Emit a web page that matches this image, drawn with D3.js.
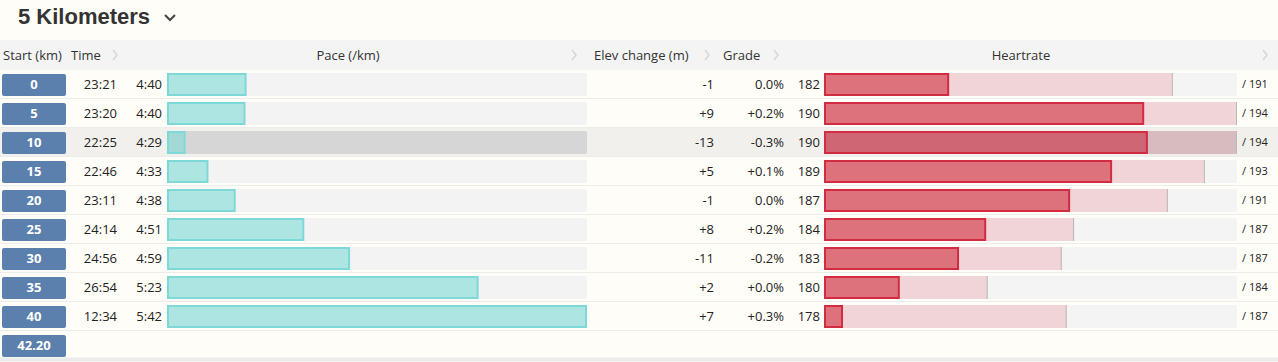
<!DOCTYPE html>
<html>
<head>
<meta charset="utf-8">
<script src="https://cdn.jsdelivr.net/npm/d3@7"></script>
<style>
  body { margin: 0; background: #fffdf8; }
  svg { display: block; font-family: "Open Sans", sans-serif; }
</style>
</head>
<body>
<div id="chart"></div>
<script>
// split data
const starts = ["0", "5", "10", "15", "20", "25", "30", "35", "40", "42.20"];
const times = ["23:21", "23:20", "22:25", "22:46", "23:11", "24:14", "24:56", "26:54", "12:34"];
const paceLabels = ["4:40", "4:40", "4:29", "4:33", "4:38", "4:51", "4:59", "5:23", "5:42"];
const paceSec = [280.2, 280.0, 269.0, 273.2, 278.2, 290.8, 299.2, 322.8, 342.7];
const elev = ["-1", "+9", "-13", "+5", "-1", "+8", "-11", "+2", "+7"];
const grade = ["0.0%", "+0.2%", "-0.3%", "+0.1%", "0.0%", "+0.2%", "-0.2%", "+0.0%", "+0.3%"];
const hrAvg = [182.3, 190.2, 190.35, 188.9, 187.2, 183.8, 182.7, 180.3, 178.0];
const hrMax = [191.4, 194.0, 194.0, 192.7, 191.2, 187.4, 186.9, 183.9, 187.1];
const highlighted = 2;

const width = 1278, height = 362;
const svg = d3.select("#chart").append("svg")
    .attr("width", width)
    .attr("height", height);

// title
svg.append("text")
    .attr("x", 18).attr("y", 24)
    .style("font-family", "'Liberation Sans', Arial, sans-serif")
    .style("font-weight", "bold")
    .style("font-size", "22px")
    .attr("fill", "#333")
    .text("5 Kilometers");
svg.append("path")
    .attr("d", "M165,15 l5,5 l5,-5")
    .attr("fill", "none")
    .attr("stroke", "#444")
    .attr("stroke-width", 2);

// header band
const headerTop = 40, headerH = 30;
svg.append("rect")
    .attr("x", 0).attr("y", headerTop)
    .attr("width", width).attr("height", headerH)
    .attr("fill", "#f4f4f4");

const headY = headerTop + headerH / 2;
const headers = [
    { t: "Start (km)", x: 3, anchor: "start" },
    { t: "Time", x: 71, anchor: "start", chev: 113 },
    { t: "Pace (/km)", x: 348, anchor: "middle", chev: 572 },
    { t: "Elev change (m)", x: 594, anchor: "start", chev: 705 },
    { t: "Grade", x: 723, anchor: "start", chev: 774 },
    { t: "Heartrate", x: 1021, anchor: "middle", chev: 1263 }
];
headers.forEach(h => {
    svg.append("text")
        .attr("x", h.x).attr("y", headY)
        .attr("dy", "0.35em")
        .attr("text-anchor", h.anchor)
        .style("font-size", "13px")
        .attr("fill", "#333")
        .text(h.t);
    if (h.chev) {
        svg.append("path")
            .attr("d", `M${h.chev},${headY - 5} l4,5 l-4,5`)
            .attr("fill", "none")
            .attr("stroke", "#d6d6d6")
            .attr("stroke-width", 1.5);
    }
});

// rows
const y = d3.scaleBand()
    .domain(d3.range(starts.length))
    .range([70, 70 + 29 * starts.length]);

const paceX = d3.scaleLinear()
    .domain([d3.min(paceSec) * 0.988, d3.max(paceSec)])
    .range([0, 419]);
const paceLeft = 167, paceTrack = 420;

const hrX = d3.scaleLinear()
    .domain([d3.min(hrAvg) * 0.9959, d3.max(hrMax)])
    .range([0, 413]);
const hrLeft = 824, hrTrack = 413;

const rows = svg.selectAll("g.row")
    .data(starts)
    .join("g")
    .attr("class", "row")
    .attr("transform", (d, i) => `translate(0,${y(i)})`);

// highlight band
rows.filter((d, i) => i === highlighted)
  .append("rect")
    .attr("x", 0).attr("y", 0)
    .attr("width", width).attr("height", y.bandwidth())
    .attr("fill", "#f1f0ec");

// row separator
rows.append("line")
    .attr("x1", 0).attr("x2", width)
    .attr("y1", y.bandwidth() - 0.5).attr("y2", y.bandwidth() - 0.5)
    .attr("stroke", "#ececec")
    .attr("stroke-width", (d, i) => i === starts.length - 1 ? 4 : 1);

const mid = y.bandwidth() / 2 - 0.5;

// start labels
rows.append("rect")
    .attr("x", 2).attr("y", 4)
    .attr("width", 64).attr("height", 22)
    .attr("rx", 2)
    .attr("fill", "#5b80ad");
rows.append("text")
    .attr("x", 34).attr("y", mid)
    .attr("dy", "0.35em")
    .attr("text-anchor", "middle")
    .style("font-size", "13px")
    .style("font-weight", "bold")
    .attr("fill", "#fff")
    .text(d => d);

const dataRows = rows.filter((d, i) => i < times.length);

function cell(sel, x, vals) {
    sel.append("text")
        .attr("x", x).attr("y", mid)
        .attr("dy", "0.35em")
        .attr("text-anchor", "end")
        .style("font-size", "13px")
        .attr("fill", "#222")
        .text(d => vals[starts.indexOf(d)]);
}
cell(dataRows, 117, times);
cell(dataRows, 162, paceLabels);
cell(dataRows, 714, elev);
cell(dataRows, 784, grade);
cell(dataRows, 820, hrAvg.map(v => Math.round(v)));

// pace bars
dataRows.append("rect")
    .attr("x", paceLeft).attr("y", 3)
    .attr("width", paceTrack).attr("height", 23)
    .attr("rx", 2)
    .attr("fill", d => starts.indexOf(d) === highlighted ? "#d6d6d6" : "#f3f3f3");
dataRows.append("rect")
    .attr("x", paceLeft + 1).attr("y", 4)
    .attr("width", d => paceX(paceSec[starts.indexOf(d)]) - 1)
    .attr("height", 21)
    .attr("fill", d => starts.indexOf(d) === highlighted ? "#a2d9d7" : "#ade5e3")
    .attr("stroke", "#7fd8d8")
    .attr("stroke-width", 2);

// heartrate bars
dataRows.append("rect")
    .attr("x", hrLeft).attr("y", 3)
    .attr("width", hrTrack).attr("height", 23)
    .attr("rx", 2)
    .attr("fill", d => starts.indexOf(d) === highlighted ? "#f1f0ec" : "#f4f4f4");
dataRows.append("rect")
    .attr("x", hrLeft).attr("y", 3)
    .attr("width", d => hrX(hrMax[starts.indexOf(d)]))
    .attr("height", 23)
    .attr("fill", d => starts.indexOf(d) === highlighted ? "#d8bbbe" : "#f0d4d7");
dataRows.append("line")
    .attr("x1", d => hrLeft + hrX(hrMax[starts.indexOf(d)]) - 0.5)
    .attr("x2", d => hrLeft + hrX(hrMax[starts.indexOf(d)]) - 0.5)
    .attr("y1", 3).attr("y2", 26)
    .attr("stroke", "#b9b9b9");
dataRows.append("rect")
    .attr("x", hrLeft + 1).attr("y", 4)
    .attr("width", d => hrX(hrAvg[starts.indexOf(d)]) - 1)
    .attr("height", 21)
    .attr("fill", d => starts.indexOf(d) === highlighted ? "#cf6673" : "#dd717c")
    .attr("stroke", "#d32b42")
    .attr("stroke-width", 2);
dataRows.append("text")
    .attr("x", 1242).attr("y", mid)
    .attr("dy", "0.35em")
    .style("font-size", "11px")
    .attr("fill", "#222")
    .text(d => "/ " + Math.round(hrMax[starts.indexOf(d)]));
</script>
</body>
</html>
